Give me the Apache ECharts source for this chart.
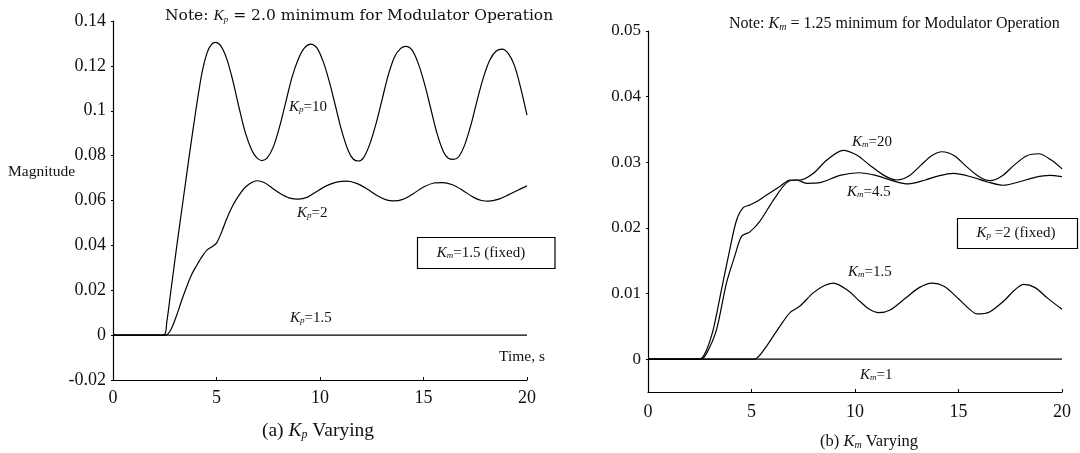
<!DOCTYPE html>
<html>
<head>
<meta charset="utf-8">
<script src="https://cdn.jsdelivr.net/npm/echarts@6/dist/echarts.min.js"></script>
<style>
html,body{margin:0;padding:0;background:#fff;}
#c{width:1080px;height:453px;}
</style>
</head>
<body>
<div id="c"></div>
<script>
// ---- Data ----
// (a) Kp varying, Km = 1.5 fixed
const tKp10 = [0, 2.45, 2.6, 2.8, 3.1, 3.4, 3.7, 4.0, 4.3, 4.55, 4.75, 4.95, 5.2, 5.5, 5.8, 6.1, 6.4, 6.7, 6.95, 7.2, 7.45, 7.75, 8.05, 8.35, 8.65, 8.95, 9.25, 9.55, 9.85, 10.15, 10.45, 10.75, 11.05, 11.35, 11.6, 11.85, 12.1, 12.4, 12.7, 13.0, 13.3, 13.6, 13.9, 14.15, 14.45, 14.75, 15.05, 15.35, 15.65, 15.95, 16.2, 16.45, 16.7, 17.0, 17.3, 17.6, 17.9, 18.2, 18.5, 18.8, 19.1, 19.4, 19.7, 20.0];
const vKp10 = [0, 0, 0.006, 0.02, 0.041, 0.061, 0.081, 0.100, 0.117, 0.126, 0.1295, 0.1305, 0.129, 0.123, 0.113, 0.101, 0.090, 0.0825, 0.079, 0.0778, 0.079, 0.084, 0.093, 0.104, 0.115, 0.123, 0.128, 0.1297, 0.128, 0.122, 0.113, 0.102, 0.091, 0.0825, 0.0785, 0.0776, 0.079, 0.085, 0.094, 0.105, 0.116, 0.124, 0.1278, 0.1287, 0.127, 0.121, 0.112, 0.101, 0.090, 0.082, 0.0788, 0.0783, 0.0795, 0.085, 0.094, 0.105, 0.115, 0.1225, 0.1265, 0.1275, 0.1255, 0.120, 0.110, 0.098];

const tKp2 = [0, 2.55, 2.8, 3.07, 3.3, 3.55, 3.8, 4.04, 4.3, 4.55, 4.8, 5.0, 5.25, 5.5, 5.8, 6.1, 6.4, 6.7, 6.95, 7.3, 7.7, 8.1, 8.5, 8.95, 9.4, 9.8, 10.3, 10.8, 11.3, 11.8, 12.3, 12.8, 13.2, 13.55, 14.0, 14.5, 15.0, 15.5, 15.9, 16.4, 16.9, 17.4, 17.8, 18.15, 18.6, 19.1, 19.6, 20.0];
const vKp2 = [0, 0, 0.0025, 0.0087, 0.015, 0.0213, 0.027, 0.031, 0.035, 0.038, 0.0395, 0.041, 0.046, 0.052, 0.058, 0.0625, 0.066, 0.068, 0.0688, 0.068, 0.0655, 0.063, 0.0612, 0.0606, 0.0615, 0.0638, 0.0665, 0.0682, 0.0686, 0.0675, 0.065, 0.062, 0.0603, 0.0598, 0.0605, 0.063, 0.066, 0.0678, 0.068, 0.067, 0.0645, 0.0615, 0.060, 0.0597, 0.0605, 0.0625, 0.0648, 0.0665];

const tKp15 = [0, 20];
const vKp15 = [0, 0];

// (b) Km varying, Kp = 2 fixed
const tKm20 = [0, 2.5, 2.8, 3.15, 3.55, 3.95, 4.28, 4.6, 4.92, 5.3, 5.73, 6.37, 6.86, 7.34, 7.98, 8.63, 9.43, 10.08, 10.7, 11.4, 12.02, 12.6, 13.2, 13.7, 14.2, 14.8, 15.4, 16.0, 16.53, 17.1, 17.7, 18.3, 18.87, 19.5, 20.0];
const vKm20 = [0, 0, 0.0012, 0.0045, 0.0106, 0.0167, 0.0212, 0.0231, 0.0235, 0.0241, 0.025, 0.0263, 0.0273, 0.0273, 0.0283, 0.0303, 0.0318, 0.0311, 0.0296, 0.028, 0.0273, 0.0279, 0.0296, 0.031, 0.0316, 0.031, 0.0293, 0.0278, 0.0272, 0.0279, 0.0296, 0.031, 0.0313, 0.0303, 0.029];

const tKm45 = [0, 2.55, 2.85, 3.31, 3.79, 4.19, 4.52, 4.92, 5.4, 6.05, 6.7, 7.18, 7.66, 8.31, 9.27, 10.2, 11.0, 11.8, 12.58, 13.4, 14.0, 14.76, 15.6, 16.4, 17.17, 17.9, 18.7, 19.4, 20.0];
const vKm45 = [0, 0, 0.001, 0.0045, 0.0116, 0.0157, 0.0187, 0.0194, 0.021, 0.0242, 0.0269, 0.0273, 0.0268, 0.0269, 0.028, 0.0284, 0.028, 0.0272, 0.0267, 0.0273, 0.0279, 0.0283, 0.0278, 0.027, 0.0265, 0.027, 0.0277, 0.028, 0.0278];

const tKm15 = [0, 5.16, 5.4, 5.73, 6.05, 6.37, 6.86, 7.34, 7.98, 8.5, 8.95, 9.6, 10.24, 10.7, 11.15, 11.7, 12.4, 13.1, 13.7, 14.3, 15.0, 15.5, 15.9, 16.5, 17.2, 17.7, 18.15, 18.7, 19.3, 20.0];
const vKm15 = [0, 0, 0.0006, 0.002, 0.0035, 0.005, 0.0071, 0.0081, 0.0101, 0.0112, 0.0116, 0.0106, 0.0088, 0.0076, 0.0071, 0.0075, 0.0092, 0.0109, 0.0116, 0.0111, 0.0092, 0.0077, 0.0069, 0.0072, 0.0089, 0.0105, 0.0114, 0.0109, 0.0093, 0.0076];

const tKm1 = [0, 20];
const vKm1 = [0, 0];

// Tick labels
const xTicks = [0, 5, 10, 15, 20];
const yTicksA = [-0.02, 0, 0.02, 0.04, 0.06, 0.08, 0.1, 0.12, 0.14];
const yTicksB = [0, 0.01, 0.02, 0.03, 0.04, 0.05];

// ---- Chart ----
const SERIF = '"Liberation Serif", "Times New Roman", serif';
const INK = '#111';
const pairs = (t, v) => t.map((x, i) => [x, v[i]]);

function rich(base) {
  return {
    n: { fontFamily: SERIF, fontSize: base, fill: INK, color: INK },
    i: { fontFamily: SERIF, fontSize: base, fontStyle: 'italic', fill: INK, color: INK },
    s: { fontFamily: SERIF, fontSize: Math.round(base * 0.6), fontStyle: 'italic', verticalAlign: 'bottom', lineHeight: Math.round(base * 0.6), fill: INK, color: INK },
    d: { fontFamily: '"DejaVu Serif", serif', fontSize: base, fill: INK, color: INK }
  };
}

function txt(x, y, text, size, align) {
  return {
    type: 'text', x: x, y: y, silent: true,
    style: {
      text: text, align: align || 'center', verticalAlign: 'middle',
      rich: rich(size), fill: INK
    }
  };
}

const lineStyle = { color: '#000', width: 1.2 };
function ser(t, v, xi) {
  return {
    type: 'line', data: pairs(t, v), xAxisIndex: xi, yAxisIndex: xi,
    showSymbol: false, smooth: 0.3, lineStyle: lineStyle, silent: true, animation: false
  };
}

const option = {
  backgroundColor: '#fff',
  animation: false,
  grid: [
    { left: 113, right: 553, top: 21, bottom: 73 },
    { left: 648, right: 18, top: 31, bottom: 61 }
  ],
  xAxis: [
    { type: 'value', gridIndex: 0, min: 0, max: 20, interval: 5,
      axisLine: { onZero: false, lineStyle: { color: '#000', width: 1.2 } }, splitLine: { show: false },
      axisTick: { inside: true, length: 3, lineStyle: { color: '#000' } },
      axisLabel: { fontFamily: SERIF, fontSize: 18, color: INK, margin: 9,
        customValues: xTicks } },
    { type: 'value', gridIndex: 1, min: 0, max: 20, interval: 5,
      axisLine: { onZero: false, lineStyle: { color: '#000', width: 1.2 } }, splitLine: { show: false },
      axisTick: { inside: true, length: 3, lineStyle: { color: '#000' } },
      axisLabel: { fontFamily: SERIF, fontSize: 18, color: INK, margin: 11,
        customValues: xTicks } }
  ],
  yAxis: [
    { type: 'value', gridIndex: 0, min: -0.02, max: 0.14, interval: 0.02,
      axisLine: { show: true, onZero: false, lineStyle: { color: '#000', width: 1.2 } }, splitLine: { show: false },
      axisTick: { show: true, inside: false, length: 2, lineStyle: { color: '#000' } },
      axisLabel: { fontFamily: SERIF, fontSize: 18, color: INK, margin: 7,
        customValues: yTicksA } },
    { type: 'value', gridIndex: 1, min: -0.005, max: 0.05,
      axisLine: { show: true, onZero: false, lineStyle: { color: '#000', width: 1.2 } }, splitLine: { show: false },
      axisTick: { show: true, inside: false, length: 2, lineStyle: { color: '#000' }, customValues: yTicksB },
      axisLabel: { fontFamily: SERIF, fontSize: 17, color: INK, margin: 7,
        customValues: yTicksB } }
  ],
  series: [
    ser(tKp10, vKp10, 0),
    ser(tKp2, vKp2, 0),
    ser(tKp15, vKp15, 0),
    ser(tKm20, vKm20, 1),
    ser(tKm45, vKm45, 1),
    ser(tKm15, vKm15, 1),
    ser(tKm1, vKm1, 1)
  ],
  graphic: [
    // left chart texts
    txt(165, 16, '{d|Note: }{i|K}{s|p}{d| = 2.0 minimum for Modulator Operation}', 15.5, 'left'),
    txt(8, 172, '{n|Magnitude}', 15.5, 'left'),
    txt(499, 357, '{n|Time, s}', 15.5, 'left'),
    txt(289, 107, '{i|K}{s|p}{n|=10}', 15, 'left'),
    txt(297, 213, '{i|K}{s|p}{n|=2}', 15, 'left'),
    txt(290, 318, '{i|K}{s|p}{n|=1.5}', 15, 'left'),
    { type: 'rect', silent: true, shape: { x: 417.5, y: 237.5, width: 137.5, height: 31 },
      style: { fill: 'none', stroke: '#000', lineWidth: 1.2 } },
    txt(481, 253, '{i|K}{s|m}{n|=1.5 (fixed)}', 15, 'center'),
    txt(318, 431, '{n|(a) }{i|K}{s|p}{n| Varying}', 19.5, 'center'),
    // right chart texts
    txt(729, 24, '{n|Note: }{i|K}{s|m}{n| = 1.25 minimum for Modulator Operation}', 16, 'left'),
    txt(852, 142, '{i|K}{s|m}{n|=20}', 15, 'left'),
    txt(847, 192, '{i|K}{s|m}{n|=4.5}', 15, 'left'),
    txt(848, 272, '{i|K}{s|m}{n|=1.5}', 15, 'left'),
    txt(860, 375, '{i|K}{s|m}{n|=1}', 15, 'left'),
    { type: 'rect', silent: true, shape: { x: 957.5, y: 218.5, width: 120, height: 30 },
      style: { fill: 'none', stroke: '#000', lineWidth: 1.2 } },
    txt(1016, 233, '{i|K}{s|p}{n| =2 (fixed)}', 15, 'center'),
    txt(869, 442, '{n|(b) }{i|K}{s|m}{n| Varying}', 16.5, 'center')
  ]
};

const chart = echarts.init(document.getElementById('c'), null, { renderer: 'canvas' });
chart.setOption(option);
</script>
</body>
</html>
